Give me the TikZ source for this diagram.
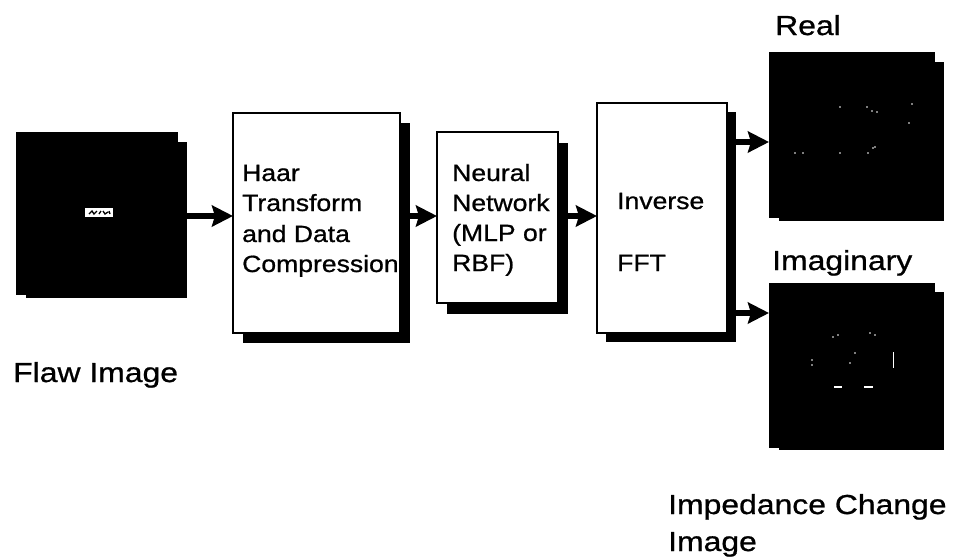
\documentclass[tikz,border=0pt]{standalone}
\usepackage{fontspec}
\setmainfont{Liberation Sans}[FakeStretch=1.13, FakeBold=0.8]
\newfontfamily\labelfont{Liberation Sans}[FakeStretch=1.16, FakeBold=0.8]
\usetikzlibrary{arrows.meta}
\newcommand\boxsize{\fontsize{23.5pt}{31pt}\selectfont}
\newcommand\lblsize{\labelfont\fontsize{27.5pt}{39pt}\selectfont}
\tikzset{
  plate/.style={anchor=north west, inner sep=0pt, outer sep=0pt},
  frontbox/.style={plate, draw=black, line width=1.6pt, fill=white},
  shade/.style={plate, fill=black, draw=none},
  picture/.style={plate, fill=black, draw=none},
  arr/.style={line width=5.5pt, -{Stealth[length=21pt,width=21pt,inset=3pt]}},
  boxtext/.style={font=\boxsize, inner sep=0pt, anchor=base west},
  lbl/.style={font=\lblsize, inner sep=0pt, anchor=base west},
  speck/.style={fill=white, draw=none}
}
\begin{document}
\begin{tikzpicture}[x=1pt,y=-1pt]
\useasboundingbox (0,0) rectangle (954,558);

% rows of the connectors
\coordinate (rowmain) at (0,216);
\coordinate (rowreal) at (0,142);
\coordinate (rowimag) at (0,313);

% input flaw image
\node[shade, minimum width=161pt, minimum height=156pt] (flawsh) at (26,142) {};
\node[picture, minimum width=162pt, minimum height=163pt] (flaw) at (16,132) {};
\node[fill=white, inner sep=0pt, minimum width=28pt, minimum height=9pt] (flawmark) at (99,212.5) {};
\draw[line width=1.3pt] (89,214) -- (92,211) -- (94,214) -- (97,211) (99,214) -- (101,211) (103,211) -- (105,214) -- (108,212) (109,211) -- (110,214);

% Haar transform block
\node[shade, minimum width=167pt, minimum height=220pt] (haarsh) at (243,123) {};
\node[frontbox, minimum width=167pt, minimum height=220pt] (haar) at (233,113) {};
\node[boxtext] (h1) at (242,181) {Haar};
\node[boxtext] (h2) at (242,211) {Transform};
\node[boxtext] (h3) at (242,242) {and Data};
\node[boxtext] (h4) at (242,272) {Compression};

% neural network block
\node[shade, minimum width=121pt, minimum height=171pt] (nnsh) at (447,143) {};
\node[frontbox, minimum width=121pt, minimum height=171pt] (nn) at (437,132) {};
\node[boxtext] (n1) at (452,181) {Neural};
\node[boxtext] (n2) at (452,211) {Network};
\node[boxtext] (n3) at (452,241) {(MLP or};
\node[boxtext] (n4) at (452,271) {RBF)};

% inverse FFT block
\node[shade, minimum width=130pt, minimum height=230pt] (fftsh) at (606,112) {};
\node[frontbox, minimum width=130pt, minimum height=230pt] (fft) at (597,103) {};
\node[boxtext] (f1) at (617,209) {Inverse};
\node[boxtext] (f2) at (617,271) {FFT};

% output images
\node[shade, minimum width=165pt, minimum height=159pt] (realsh) at (779,62) {};
\node[picture, minimum width=166pt, minimum height=166pt] (real) at (769,52) {};
\node[shade, minimum width=165pt, minimum height=158pt] (imagsh) at (779,292) {};
\node[picture, minimum width=166pt, minimum height=165pt] (imag) at (769,283) {};

% faint detail in the real part
\foreach \p in {(840,107),(867,107),(872,111),(877,112),(912,104),(909,123),
                (795,153),(803,153),(840,153),(868,153),(873,148),(875,147)}
  \fill[speck] \p circle (0.9pt);
% ring of detail in the imaginary part
\foreach \p in {(833,337),(838,335),(870,333),(875,335),(812,360),(812,365),
                (855,353),(850,363),(837,387),(840,387),(867,387),(872,387)}
  \fill[speck] \p circle (0.9pt);
\fill[speck] (892.5,352) rectangle (894,368);
\fill[speck] (834,386.3) rectangle (842,387.7);
\fill[speck] (864,386.3) rectangle (873,387.7);

% connectors
\draw[arr] (flawsh.east |- rowmain) -- (haar.west |- rowmain);
\draw[arr] (haarsh.east |- rowmain) -- (nn.west |- rowmain);
\draw[arr] (nnsh.east |- rowmain) -- (fft.west |- rowmain);
\draw[arr] (fftsh.east |- rowreal) -- (real.west |- rowreal);
\draw[arr] (fftsh.east |- rowimag) -- (imag.west |- rowimag);

% labels
\node[lbl] (lflaw) at (13,382) {Flaw Image};
\node[lbl] (lreal) at (775,35) {Real};
\node[lbl] (limag) at (772,270) {Imaginary};
\node[lbl] (limp1) at (668,514) {Impedance Change};
\node[lbl] (limp2) at ([yshift=-37pt]limp1.base west) {Image};
\end{tikzpicture}
\end{document}
